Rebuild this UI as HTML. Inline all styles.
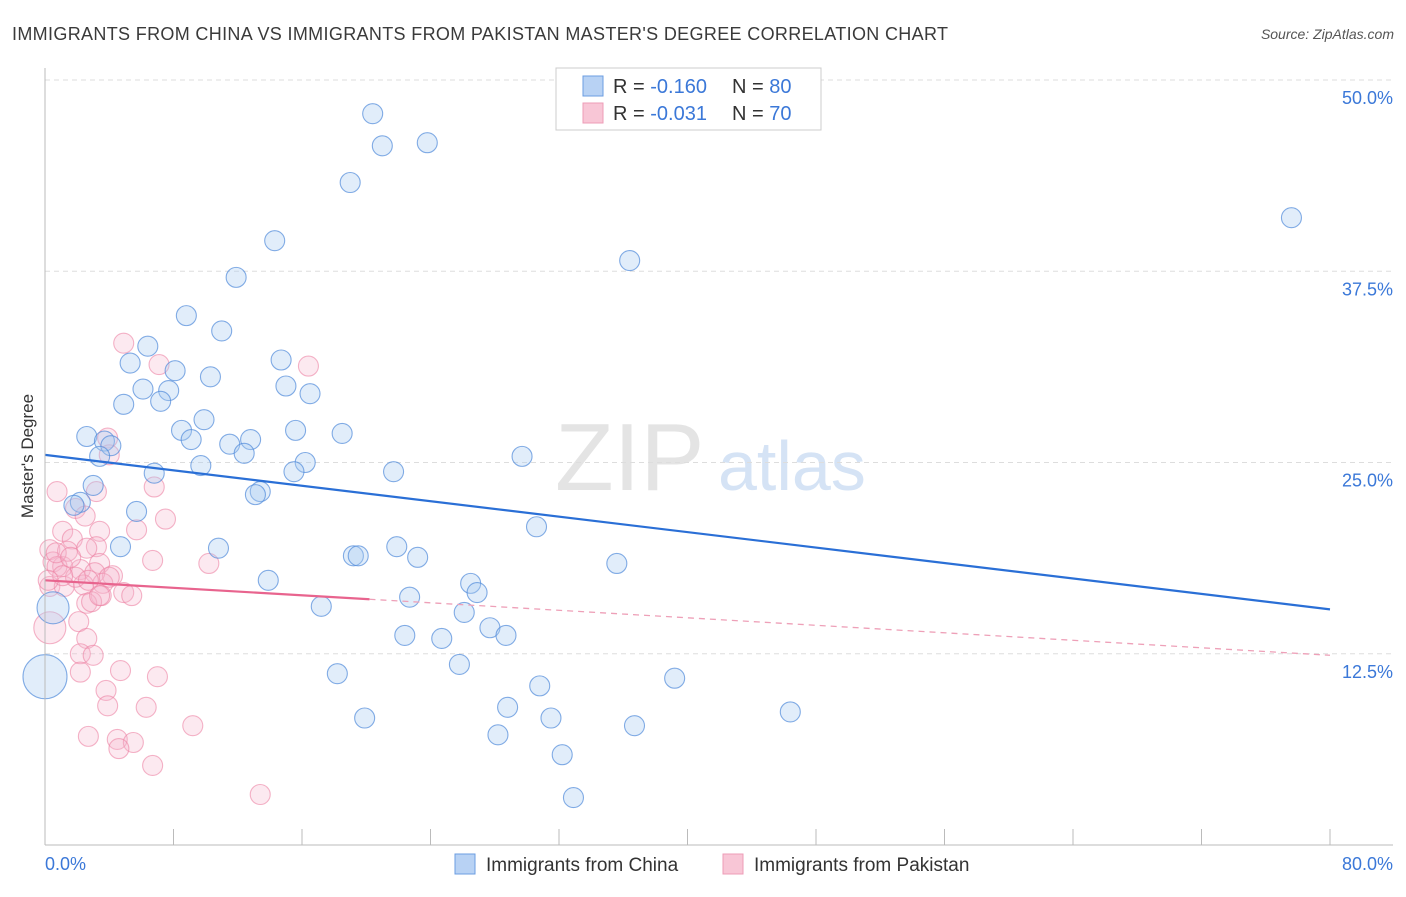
<!DOCTYPE html>
<html><head><meta charset="utf-8"><style>
body{margin:0;background:#fff;font-family:"Liberation Sans",sans-serif;}
svg text{font-family:"Liberation Sans",sans-serif;}
</style></head><body>
<svg id="c" width="1406" height="892">
<text x="12" y="40" font-size="18" fill="#3a3a3a" textLength="936" lengthAdjust="spacing">IMMIGRANTS FROM CHINA VS IMMIGRANTS FROM PAKISTAN MASTER'S DEGREE CORRELATION CHART</text>
<text x="1394" y="39" font-size="14" fill="#555" text-anchor="end" font-style="italic">Source: ZipAtlas.com</text>
<text x="33" y="456" font-size="17" fill="#333" text-anchor="middle" transform="rotate(-90 33 456)">Master's Degree</text>
<g><text x="555" y="490" font-size="96" fill="#e4e4e4" font-family="Liberation Serif">ZIP</text><text x="718" y="490" font-size="70" fill="#d5e3f5">atlas</text></g>
<g id="grid"></g><g id="pts"></g><g id="trend"></g>
<line x1="45" y1="68" x2="45" y2="845" stroke="#bbb"/>
<line x1="45" y1="845" x2="1393" y2="845" stroke="#bbb"/>
<text x="45" y="870" font-size="18" fill="#3b78d8">0.0%</text>
<text x="1393" y="870" font-size="18" fill="#3b78d8" text-anchor="end">80.0%</text>
<g>
<rect x="556" y="68" width="265" height="62" fill="#fff" stroke="#ccc"/>
<rect x="583" y="76" width="20" height="20" fill="#b8d2f4" stroke="#6b9de2"/>
<rect x="583" y="103" width="20" height="20" fill="#f8c6d6" stroke="#ee9cb7"/>
<text x="613" y="93" font-size="20" fill="#333">R = <tspan fill="#3b78d8">-0.160</tspan></text>
<text x="732" y="93" font-size="20" fill="#333">N = <tspan fill="#3b78d8">80</tspan></text>
<text x="613" y="120" font-size="20" fill="#333">R = <tspan fill="#3b78d8">-0.031</tspan></text>
<text x="732" y="120" font-size="20" fill="#333">N = <tspan fill="#3b78d8">70</tspan></text>
</g>
<g>
<rect x="455" y="854" width="20" height="20" fill="#b8d2f4" stroke="#6b9de2"/>
<text x="486" y="871" font-size="19" fill="#333">Immigrants from China</text>
<rect x="723" y="854" width="20" height="20" fill="#f8c6d6" stroke="#ee9cb7"/>
<text x="754" y="871" font-size="19" fill="#333">Immigrants from Pakistan</text>
</g>
</svg>
<script>
const chinaX=[20.4,21.0,23.8,19.0,77.6,14.3,36.4,11.9,8.8,11.0,6.4,14.7,5.3,8.1,10.3,15.0,6.1,7.7,16.5,4.9,7.2,9.9,8.5,15.6,18.5,2.6,9.1,12.8,11.5,3.7,4.1,12.4,3.4,29.7,16.2,9.7,6.8,15.5,21.7,3.0,13.4,13.1,2.2,1.8,5.7,30.6,4.7,10.8,21.9,19.2,19.5,23.2,35.6,13.9,26.5,26.9,22.7,0.5,17.2,26.1,27.7,22.4,24.7,28.7,25.8,0,18.2,39.2,30.8,28.8,46.4,19.9,31.5,36.7,28.2,32.2,32.9];
const chinaY=[47.8,45.7,45.9,43.3,41.0,39.5,38.2,37.1,34.6,33.6,32.6,31.7,31.5,31.0,30.6,30.0,29.8,29.7,29.5,28.8,29.0,27.8,27.1,27.1,26.9,26.7,26.5,26.5,26.2,26.4,26.1,25.6,25.4,25.4,25.0,24.8,24.3,24.4,24.4,23.5,23.1,22.9,22.4,22.2,21.8,20.8,19.5,19.4,19.5,18.9,18.9,18.8,18.4,17.3,17.1,16.5,16.2,15.5,15.6,15.2,14.2,13.7,13.5,13.7,11.8,11.0,11.2,10.9,10.4,9.0,8.7,8.3,8.3,7.8,7.2,5.9,3.1];
const chinaR=[1,1,1,1,1,1,1,1,1,1,1,1,1,1,1,1,1,1,1,1,1,1,1,1,1,1,1,1,1,1,1,1,1,1,1,1,1,1,1,1,1,1,1,1,1,1,1,1,1,1,1,1,1,1,1,1,1,1.6,1,1,1,1,1,1,1,2.2,1,1,1,1,1,1,1,1,1,1,1];
const pakX=[3.9,4.0,0.75,3.2,6.8,1.9,2.5,7.5,5.7,1.1,3.4,1.7,3.2,0.3,6.7,10.2,3.4,0.5,1.1,2.2,4.2,3.1,0.3,1.2,2.4,3.6,4.9,5.4,3.5,2.6,2.9,0.3,2.1,2.6,2.2,3.0,2.2,4.7,7.0,3.8,3.9,6.3,9.2,2.7,4.5,5.5,4.6,6.7,4.9,7.1,16.4,13.4,1.4,0.75,1.9,1.1,0.2,2.7,4.0,3.4,0.7,2.6,1.6];
const pakY=[26.6,25.5,23.1,23.1,23.4,22.0,21.5,21.3,20.6,20.5,20.5,20.0,19.5,19.3,18.6,18.4,18.4,18.5,18.2,18.0,17.6,17.8,16.9,16.9,17.0,17.1,16.5,16.3,16.3,15.8,15.9,14.2,14.6,13.5,12.5,12.4,11.3,11.4,11.0,10.1,9.1,9.0,7.8,7.1,6.9,6.7,6.3,5.2,32.8,31.4,31.3,3.3,19.2,18.2,17.5,17.6,17.3,17.3,17.5,16.3,19.1,19.4,18.8];
const pakR=[1,1,1,1,1,1,1,1,1,1,1,1,1,1,1,1,1,1,1,1,1,1,1,1,1,1,1,1,1,1,1,1.6,1,1,1,1,1,1,1,1,1,1,1,1,1,1,1,1,1,1,1,1,1,1,1,1,1,1,1,1,1,1,1];
const yTicks=[12.5,25.0,37.5,50.0];
const xTicks=[0,8,16,24,32,40,48,56,64,72,80];
const chinaTrend=[25.5,15.4];
const pakTrend=[17.3,12.4];
const pakSolidEnd=20.2;
const NS="http://www.w3.org/2000/svg";
const sx=v=>45+v/80*1285, sy=v=>845-v/50*765;
function mk(t,a,p){const e=document.createElementNS(NS,t);for(const k in a)e.setAttribute(k,a[k]);p.appendChild(e);return e;}
const grid=document.getElementById('grid'),pts=document.getElementById('pts'),tr=document.getElementById('trend');
yTicks.forEach(v=>{
 const l=mk('line',{x1:45,x2:1393,y1:sy(v),y2:sy(v),stroke:'#ddd','stroke-dasharray':'5,4'},grid);
 
 
 const t=mk('text',{x:1393,y:sy(v)+24,'font-size':18,fill:'#3b78d8','text-anchor':'end'},grid);t.textContent=v.toFixed(1)+'%';
 
 
});
xTicks.forEach(v=>{
 const l=mk('line',{x1:sx(v),x2:sx(v),y1:829,y2:845,stroke:'#bbb'},grid);
 
 
});
function dots(X,Y,R,fill,stroke,name){X.forEach((x,i)=>{
 const c=mk('circle',{cx:sx(x),cy:sy(Y[i]),r:10*R[i],fill:fill,stroke:stroke,'stroke-width':1.1},pts);
 
 
});}
dots(pakX,pakY,pakR,'rgba(246,182,204,0.3)','rgba(236,130,164,0.6)','pakistan-point');
dots(chinaX,chinaY,chinaR,'rgba(170,202,242,0.35)','rgba(80,138,218,0.7)','china-point');
const b=mk('line',{x1:sx(0),y1:sy(chinaTrend[0]),x2:sx(80),y2:sy(chinaTrend[1]),stroke:'#2a6fd6','stroke-width':2.2},tr);


const pm=(pakTrend[1]-pakTrend[0])/80, pe=pakTrend[0]+pm*pakSolidEnd;
const p1=mk('line',{x1:sx(0),y1:sy(pakTrend[0]),x2:sx(pakSolidEnd),y2:sy(pe),stroke:'#e8648e','stroke-width':2.2},tr);


const p2=mk('line',{x1:sx(pakSolidEnd),y1:sy(pe),x2:sx(80),y2:sy(pakTrend[1]),stroke:'#eea0b8','stroke-width':1.3,'stroke-dasharray':'6,5'},tr);


</script>
</body></html>
